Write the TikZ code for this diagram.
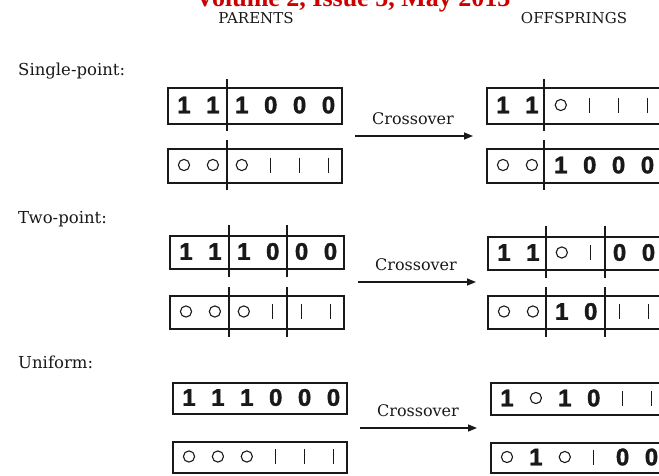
\documentclass[tikz,border=0pt]{standalone}
\usepackage{fontspec}
\setmainfont{DejaVu Serif}
\newfontfamily\digitfont[FakeBold=1.6]{Liberation Sans Bold}
\newfontfamily\titlefont{Liberation Serif}
\usetikzlibrary{arrows.meta}
\definecolor{titlered}{RGB}{204,0,0}
\definecolor{ink}{RGB}{25,25,25}
\newcommand\chrom[5]{% #1 name, #2 x0, #3 ytop, #4 height, #5 symbols
  \node[genebox, minimum height=#4] (#1) at (#2,#3) {};
  \pgfmathsetmacro\yc{#3+#4/2}
  \foreach \s [count=\i] in {#5} {
    \pgfmathsetmacro\xx{#2+17+28.9*(\i-1)}
    \if\s1 \node[dig] (#1-\i) at (\xx,\yc) {1};\fi
    \if\s0 \node[dig] (#1-\i) at (\xx,\yc) {0};\fi
    \if\s o \draw[glyph] (\xx,\yc) circle (5.6);\fi
    \if\s l \draw[glyph] (\xx,\yc-7.5) -- (\xx,\yc+7.5);\fi
  }
}
\begin{document}
\begin{tikzpicture}[x=1pt,y=-1pt,
  genebox/.style={draw=ink, line width=1.7pt, minimum width=174pt, inner sep=0pt, anchor=north west},
  dig/.style={inner sep=0pt, text=ink, font=\digitfont\fontsize{24}{24}\selectfont},
  glyph/.style={draw=ink, line width=1.1pt},
  divider/.style={draw=ink, line width=1.4pt},
  lbl/.style={inner sep=0pt, anchor=base west, text=ink, font=\fontsize{16.5}{16.5}\selectfont},
  cross/.style={inner sep=0pt, anchor=base, text=ink, font=\fontsize{16}{16}\selectfont},
  head/.style={inner sep=0pt, anchor=base, text=ink, font=\fontsize{15}{15}\selectfont},
  arr/.style={draw=ink, line width=1.5pt, -{Triangle[length=9pt,width=7pt]}}]
\useasboundingbox (0,0) rectangle (659,475);

% header
\node[inner sep=0pt, anchor=base, text=titlered, font=\titlefont\bfseries\fontsize{26}{26}\selectfont] (title) at (353,6) {Volume 2, Issue 5, May 2013};
\node[head] (parents) at (256,23) {PARENTS};
\node[head] (offspr) at (574,23) {OFFSPRINGS};

% row labels
\node[lbl] (l1) at (18,75) {Single-point:};
\node[lbl] (l2) at (18,223) {Two-point:};
\node[lbl] (l3) at (18,368) {Uniform:};

% ---------- Single-point ----------
\chrom{p1a}{167}{87}{36}{1,1,1,0,0,0}
\chrom{p1b}{167}{148}{34}{o,o,o,l,l,l}
\chrom{o1a}{486}{87}{36}{1,1,o,l,l,l}
\chrom{o1b}{486}{148}{34}{o,o,1,0,0,0}
\draw[divider] (227,79) -- (227,131);
\draw[divider] (227,140) -- (227,190);
\draw[divider] (544,79) -- (544,131);
\draw[divider] (544,140) -- (544,190);
\coordinate (a1s) at (355,136);
\coordinate (a1e) at (473,136);
\draw[arr] (a1s) -- (a1e);
\node[cross] (c1) at (413,124) {Crossover};

% ---------- Two-point ----------
\chrom{p2a}{169}{235}{33}{1,1,1,0,0,0}
\chrom{p2b}{169}{295}{33}{o,o,o,l,l,l}
\chrom{o2a}{487}{236}{33}{1,1,o,l,0,0}
\chrom{o2b}{487}{295}{33}{o,o,1,0,l,l}
\draw[divider] (229,225) -- (229,277);
\draw[divider] (287,225) -- (287,277);
\draw[divider] (229,287) -- (229,337);
\draw[divider] (287,287) -- (287,337);
\draw[divider] (546,226) -- (546,278);
\draw[divider] (605,226) -- (605,278);
\draw[divider] (546,287) -- (546,337);
\draw[divider] (605,287) -- (605,337);
\coordinate (a2s) at (358,282);
\coordinate (a2e) at (476,282);
\draw[arr] (a2s) -- (a2e);
\node[cross] (c2) at (416,270) {Crossover};

% ---------- Uniform ----------
\chrom{p3a}{172}{382}{31}{1,1,1,0,0,0}
\chrom{p3b}{172}{441}{31}{o,o,o,l,l,l}
\chrom{o3a}{490}{382}{32}{1,o,1,0,l,l}
\chrom{o3b}{490}{442}{30}{o,1,o,l,0,0}
\coordinate (a3s) at (360,428);
\coordinate (a3e) at (477,428);
\draw[arr] (a3s) -- (a3e);
\node[cross] (c3) at (418,416) {Crossover};
\end{tikzpicture}
\end{document}
